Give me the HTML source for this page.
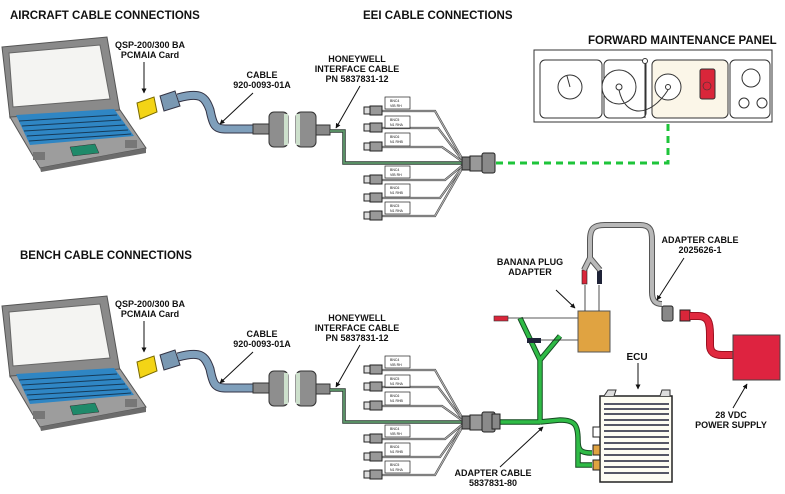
<!DOCTYPE html>
<html><head><meta charset="utf-8"><style>
body{margin:0;background:#fff}
svg{display:block}
text{font-family:"Liberation Sans",Arial,sans-serif;font-weight:bold;fill:#111}
.t{font-size:11.5px}
.l{font-size:9px;text-anchor:middle}
.s{font-size:3.5px;font-weight:normal}
</style></head><body>
<svg width="785" height="494" viewBox="0 0 785 494" xmlns="http://www.w3.org/2000/svg">
<defs>
<marker id="a" viewBox="0 0 10 10" refX="9" refY="5" markerWidth="5" markerHeight="5" orient="auto"><path d="M0,0L10,5L0,10z" fill="#111"/></marker>
<g id="laptop">
  <polygon points="2,47 107,37 120,112 10,118" fill="#8a8a8a" stroke="#555"/>
  <polygon points="9,53 100,45 110,99 13,107" fill="#f4f4f2" stroke="#666"/>
  <polygon points="10,117 120,110 146,148 40,168" fill="#9d9d9d" stroke="#555"/>
  <polygon points="40,168 146,148 146,153 41,172" fill="#6c6c6c"/>
  <polygon points="16,115 114,109 134,136 30,145" fill="#2f86c4"/>
  <g stroke="#163a58" stroke-width="1">
   <line x1="19" y1="121" x2="117" y2="115"/><line x1="22" y1="126" x2="121" y2="120"/><line x1="24" y1="131" x2="125" y2="125"/><line x1="27" y1="136" x2="128" y2="130"/><line x1="29" y1="141" x2="131" y2="134"/>
  </g>
  <polygon points="70,147 95,144 99,153 73,156" fill="#1f8a6a" stroke="#333" stroke-width=".5"/>
  <rect x="33" y="152" width="12" height="8" fill="#777"/><rect x="125" y="140" width="12" height="8" fill="#777"/>
  <polygon points="137,103 154,97 157,112 140,119" fill="#f3d416" stroke="#7a6a00"/>
  <polygon points="160,96 175,91 180,106 164,111" fill="#7a98b2" stroke="#334"/>
  <path d="M178,98 C200,92 205,96 210,110 C213,125 215,129 225,129 L258,129" fill="none" stroke="#334" stroke-width="9"/>
  <path d="M178,98 C200,92 205,96 210,110 C213,125 215,129 225,129 L258,129" fill="none" stroke="#7f9fbb" stroke-width="7"/>
  <rect x="253" y="124" width="16" height="10" fill="#888" stroke="#333"/>
  <rect x="269" y="112" width="19" height="35" rx="5" fill="#8e8e8e" stroke="#333"/>
  <rect x="284" y="114" width="4" height="31" fill="#cde0cc"/>
  <rect x="296" y="112" width="20" height="35" rx="5" fill="#8e8e8e" stroke="#333"/>
  <rect x="296" y="114" width="4" height="31" fill="#cde0cc"/>
  <rect x="316" y="125" width="14" height="10" fill="#888" stroke="#333"/>
  <path d="M330,131 L344,131 L344,163 L465,163" fill="none" stroke="#2d3a33" stroke-width="3.5"/>
  <path d="M330,131 L344,131 L344,163 L465,163" fill="none" stroke="#5e9a6c" stroke-width="1.8"/>
  <g fill="none" stroke="#444" stroke-width="2.2">
   <path d="M380,111 L435,111 L463,160"/><path d="M380,128 L438,128 L463,161"/><path d="M380,147 L442,147 L463,162"/>
   <path d="M380,180 L445,180 L463,165"/><path d="M380,198 L440,198 L463,166"/><path d="M380,216 L435,216 L463,167"/>
  </g>
  <g fill="none" stroke="#bbb" stroke-width="1">
   <path d="M380,111 L435,111 L463,160"/><path d="M380,128 L438,128 L463,161"/><path d="M380,147 L442,147 L463,162"/>
   <path d="M380,180 L445,180 L463,165"/><path d="M380,198 L440,198 L463,166"/><path d="M380,216 L435,216 L463,167"/>
  </g>
  <g id="plug"><rect x="364" y="107" width="6" height="7" fill="#ddd" stroke="#222"/><rect x="370" y="106" width="12" height="9" fill="#999" stroke="#222"/></g>
  <use href="#plug" y="17"/><use href="#plug" y="36"/><use href="#plug" y="69"/><use href="#plug" y="87"/><use href="#plug" y="105"/>
  <g fill="#fff" stroke="#222" stroke-width=".7">
   <rect x="385" y="97" width="25" height="12"/><rect x="385" y="116" width="25" height="12"/><rect x="385" y="133" width="25" height="13"/>
   <rect x="385" y="166" width="25" height="12"/><rect x="385" y="184" width="25" height="13"/><rect x="385" y="202" width="25" height="12"/>
  </g>
  <g class="s">
   <text x="390" y="102" class="s">BNC4</text><text x="390" y="107" class="s">VIB RH</text>
   <text x="390" y="121" class="s">BNC5</text><text x="390" y="126" class="s">N1 RHA</text>
   <text x="390" y="138" class="s">BNC6</text><text x="390" y="143" class="s">N1 RHB</text>
   <text x="390" y="171" class="s">BNC4</text><text x="390" y="176" class="s">VIB RH</text>
   <text x="390" y="189" class="s">BNC6</text><text x="390" y="194" class="s">N1 RHB</text>
   <text x="390" y="207" class="s">BNC5</text><text x="390" y="212" class="s">N1 RHA</text>
  </g>
  <rect x="462" y="157" width="8" height="13" fill="#777" stroke="#222"/>
  <rect x="470" y="156" width="12" height="15" fill="#999" stroke="#222"/>
  <rect x="482" y="153" width="13" height="20" rx="2" fill="#8a8a8a" stroke="#222"/>
  <text x="150" y="48" class="l">QSP-200/300 BA</text><text x="150" y="58" class="l">PCMAIA Card</text>
  <line x1="144" y1="62" x2="144" y2="93" stroke="#111" marker-end="url(#a)"/>
  <text x="262" y="78" class="l">CABLE</text><text x="262" y="88" class="l">920-0093-01A</text>
  <line x1="253" y1="93" x2="220" y2="124" stroke="#111" marker-end="url(#a)"/>
  <text x="357" y="62" class="l">HONEYWELL</text><text x="357" y="72" class="l">INTERFACE CABLE</text><text x="357" y="82" class="l">PN 5837831-12</text>
  <line x1="360" y1="86" x2="336" y2="128" stroke="#111" marker-end="url(#a)"/>
</g>
</defs>

<text x="10" y="19" class="t">AIRCRAFT CABLE CONNECTIONS</text>
<text x="363" y="19" class="t">EEI CABLE CONNECTIONS</text>
<text x="588" y="44" class="t">FORWARD MAINTENANCE PANEL</text>
<text x="20" y="259" class="t">BENCH CABLE CONNECTIONS</text>

<use href="#laptop"/>
<use href="#laptop" y="259"/>

<path d="M496,163 L668,163 L668,95" fill="none" stroke="#1ec43a" stroke-width="3" stroke-dasharray="7,5"/>

<g stroke="#333" fill="#fff" stroke-width="1">
 <path d="M534,50 L772,50 L772,122 L534,122 Z"/>
 <rect x="540" y="60" width="62" height="58" rx="5"/>
 <rect x="604" y="60" width="42" height="58" rx="5"/>
 <rect x="652" y="60" width="76" height="58" rx="5" fill="#fbf6e8"/>
 <rect x="730" y="60" width="40" height="58" rx="5"/>
 <circle cx="570" cy="87" r="12"/>
 <line x1="570" y1="87" x2="567" y2="76"/>
 <circle cx="619" cy="87" r="17"/><circle cx="619" cy="87" r="3"/>
 <circle cx="668" cy="87" r="13"/><circle cx="668" cy="87" r="2.5"/>
 <circle cx="751" cy="78" r="9"/>
 <circle cx="744" cy="103" r="5"/><circle cx="762" cy="103" r="5"/>
 <circle cx="645" cy="61" r="2.5"/>
 <line x1="645" y1="64" x2="645" y2="118"/>
 <path d="M619,90 C625,118 650,118 668,90" fill="none"/>
</g>
<rect x="700" y="69" width="15" height="30" rx="2" fill="#d9263a" stroke="#333"/>
<circle cx="707" cy="86" r="4" fill="none" stroke="#333" stroke-width=".6"/>

<path d="M496,422 L540,422 M540,422 L540,360 L520,318 M540,360 L560,336 M540,422 L560,420 C575,420 578,425 578,440 L578,465 L592,465 M578,440 C578,450 580,453 592,453" fill="none" stroke="#164a22" stroke-width="5.5"/>
<path d="M496,422 L540,422 M540,422 L540,360 L520,318 M540,360 L560,336 M540,422 L560,420 C575,420 578,425 578,440 L578,465 L592,465 M578,440 C578,450 580,453 592,453" fill="none" stroke="#2fbb46" stroke-width="3.5"/>
<rect x="492" y="414" width="8" height="15" fill="#888" stroke="#222"/>
<rect x="494" y="316" width="14" height="5" fill="#d9263a" stroke="#333" stroke-width=".6"/>
<rect x="527" y="338" width="14" height="5" fill="#1f2338"/>
<line x1="508" y1="318" x2="578" y2="318" stroke="#222" stroke-width=".8"/>
<line x1="541" y1="340" x2="578" y2="340" stroke="#222" stroke-width=".8"/>
<rect x="578" y="311" width="32" height="41" fill="#e0a341" stroke="#555"/>
<line x1="585" y1="311" x2="585" y2="285" stroke="#222" stroke-width=".8"/>
<line x1="599" y1="311" x2="599" y2="285" stroke="#222" stroke-width=".8"/>
<rect x="582" y="270" width="5" height="14" fill="#d9263a" stroke="#222" stroke-width=".6"/>
<rect x="597" y="270" width="5" height="14" fill="#1f2338"/>
<path d="M584,270 L590,258 L600,270 M590,258 L590,240 C590,228 594,225 605,225 L640,225 C650,225 652,230 652,240 L652,292 C652,300 655,304 662,304" fill="none" stroke="#555" stroke-width="6"/>
<path d="M584,270 L590,258 L600,270 M590,258 L590,240 C590,228 594,225 605,225 L640,225 C650,225 652,230 652,240 L652,292 C652,300 655,304 662,304" fill="none" stroke="#b8b8b8" stroke-width="4"/>
<rect x="662" y="306" width="11" height="15" rx="2" fill="#888" stroke="#222"/>
<rect x="680" y="310" width="10" height="11" fill="#d9263a" stroke="#222"/>
<path d="M690,316 L698,316 C708,316 710,322 710,335 L710,345 C710,352 714,355 722,355 L737,355" fill="none" stroke="#9b1020" stroke-width="8"/>
<path d="M690,316 L698,316 C708,316 710,322 710,335 L710,345 C710,352 714,355 722,355 L737,355" fill="none" stroke="#e0283e" stroke-width="6"/>
<rect x="733" y="335" width="47" height="45" fill="#de2340" stroke="#444"/>
<rect x="600" y="396" width="72" height="86" fill="#fdfcf3" stroke="#222" stroke-width="1.5"/>
<g stroke="#1f2038" stroke-width="1.4">
 <line x1="604" y1="404" x2="669" y2="404"/><line x1="604" y1="409" x2="669" y2="409"/><line x1="604" y1="414" x2="669" y2="414"/><line x1="604" y1="420" x2="669" y2="420"/><line x1="604" y1="425" x2="669" y2="425"/><line x1="604" y1="431" x2="669" y2="431"/><line x1="604" y1="437" x2="669" y2="437"/><line x1="604" y1="443" x2="669" y2="443"/><line x1="604" y1="449" x2="669" y2="449"/><line x1="604" y1="455" x2="669" y2="455"/><line x1="604" y1="461" x2="669" y2="461"/><line x1="604" y1="467" x2="669" y2="467"/><line x1="604" y1="473" x2="669" y2="473"/>
</g>
<path d="M604,396 L608,390 L616,390 L614,396 M660,396 L662,390 L670,390 L670,396" fill="#ddd" stroke="#333"/>
<rect x="593" y="427" width="7" height="10" fill="#fff" stroke="#222"/>
<rect x="593" y="445" width="7" height="10" fill="#e0a341" stroke="#222"/>
<rect x="593" y="460" width="7" height="10" fill="#e0a341" stroke="#222"/>

<text x="530" y="265" class="l">BANANA PLUG</text><text x="530" y="275" class="l">ADAPTER</text>
<line x1="556" y1="290" x2="575" y2="308" stroke="#111" marker-end="url(#a)"/>
<text x="700" y="243" class="l">ADAPTER CABLE</text><text x="700" y="253" class="l">2025626-1</text>
<line x1="684" y1="258" x2="657" y2="300" stroke="#111" marker-end="url(#a)"/>
<text x="637" y="360" class="l" style="font-size:10px">ECU</text>
<line x1="638" y1="363" x2="638" y2="389" stroke="#111" marker-end="url(#a)"/>
<text x="731" y="418" class="l">28 VDC</text><text x="731" y="428" class="l">POWER SUPPLY</text>
<line x1="733" y1="408" x2="747" y2="384" stroke="#111" marker-end="url(#a)"/>
<text x="493" y="476" class="l">ADAPTER CABLE</text><text x="493" y="486" class="l">5837831-80</text>
<line x1="500" y1="467" x2="543" y2="427" stroke="#111" marker-end="url(#a)"/>
</svg>
</body></html>
